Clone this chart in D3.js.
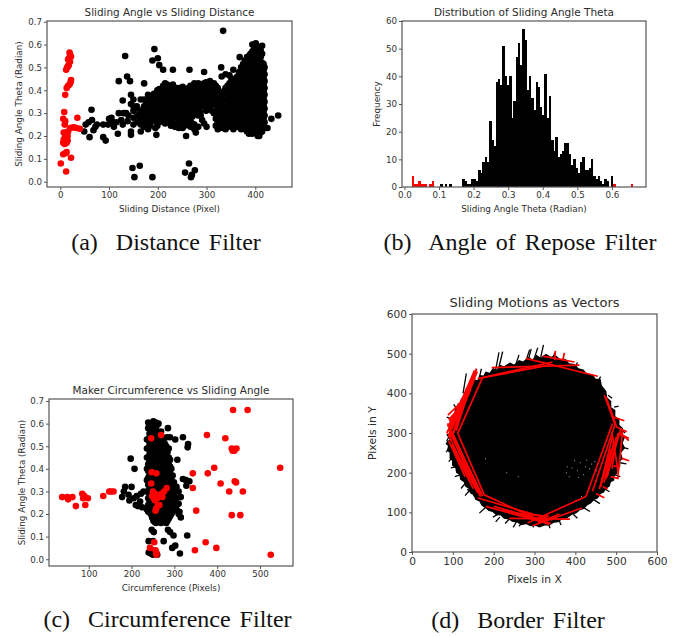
<!DOCTYPE html>
<html lang="en">
<head>
<meta charset="utf-8">
<title>Sliding filters</title>
<script src="https://d3js.org/d3.v7.min.js"></script>
<style>
  body { margin: 0; background: #fff; }
  svg { display: block; }
  text { font-family: "DejaVu Sans", sans-serif; fill: #2b2b2b; }
  .caption { font-family: "Liberation Serif", serif; fill: #111; white-space: pre; word-spacing: 3px; }
</style>
</head>
<body>
<script>
// (a) distance vs angle. single points first, then the dense band as columns [x, ys]
var distanceLoose = [[334,.66],[133,.55],[193,.58],[189,.53],[200,.54],[203,.51],[211,.49],[231,.49],[265,.49],[295,.48],[330,.5],[355,.49],[368,.545],
  [120,.44],[137,.46],[143,.44],[172,.43],[128,.355],[145,.38],[150,.36],[145,.34],[157,.33],
  [148,.06],[163,.07],[152,.02],[189,.02],[256,.04],[264,.08],[276,.05],[270,.03],[268,.02],
  [433,.275],[447,.29],[425,.235],[49,.22],[52,.25],[60,.195],[64,.315],[65,.27],[58,.26],[68,.225],[75,.25],[72,.24],
  [88,.195],[93,.18],[88,.25],[98,.25],[100,.275],[105,.28],[110,.24],[118,.21],[120,.3],[125,.27],[130,.3],[135,.3],[140,.29],
  [145,.205],[145,.22],[115,.26],[108,.26],[128,.25],[138,.265],[197,.205],[258,.2],[278,.215],[300,.24],[288,.29],[405,.2]];
var distanceBand = [
  [150,[.25,.28,.31,.33]],[158,[.26,.29,.32]],[165,[.22,.25,.28,.31,.36]],[172,[.24,.27,.3,.33,.36]],
  [180,[.23,.26,.29,.32,.35,.38]],[188,[.28,.31,.34,.37]],[195,[.235,.27,.3,.33,.36]],[203,[.26,.29,.32,.35,.38,.405]],
  [211,[.27,.3,.33,.36,.39,.42]],[219,[.28,.31,.34,.37,.4,.425]],[227,[.245,.27,.3,.33,.36,.39,.42]],[235,[.24,.28,.31,.34,.37,.4]],
  [243,[.235,.26,.29,.32,.35,.38,.41]],[251,[.235,.27,.3,.33,.36,.39,.415]],[259,[.25,.28,.31,.34,.37,.4]],[267,[.24,.27,.3,.33,.36,.39,.42]],
  [275,[.23,.25,.31,.34,.37,.4,.43]],[283,[.24,.29,.32,.35,.38,.41,.43]],[291,[.27,.33,.36,.39,.42]],[299,[.31,.34,.37,.4,.435]],
  [307,[.33,.36,.39,.42,.44]],[315,[.3,.34,.37,.4,.43]],[323,[.23,.26,.29,.32,.35,.38,.41]],[331,[.235,.27,.3,.33,.36,.39,.46]],
  [339,[.23,.26,.29,.33,.38,.41,.47]],[347,[.25,.28,.31,.34,.37,.4,.43,.465]],[355,[.23,.27,.3,.33,.36,.39,.42,.45]],
  [363,[.24,.28,.31,.34,.37,.4,.43,.46]],[371,[.23,.26,.29,.32,.35,.38,.41,.44,.47,.5]],
  [379,[.23,.26,.29,.32,.35,.38,.41,.44,.47,.5,.53]],[387,[.21,.24,.27,.3,.33,.36,.39,.42,.45,.48,.51,.54,.55]],
  [394,[.21,.24,.27,.3,.33,.36,.39,.42,.45,.48,.51,.54,.57,.6]],[401,[.22,.25,.28,.31,.34,.37,.4,.43,.46,.49,.52,.55,.58,.605]],
  [408,[.2,.23,.26,.29,.32,.35,.38,.41,.44,.47,.5,.53,.56,.59]],[414,[.22,.25,.28,.31,.34,.37,.4,.43,.46,.49,.52,.56,.595]],
  [419,[.26,.29,.32,.35,.38,.41,.44,.47,.5]]];
var distanceFill = [
  [162,[.265,.295]],[176,[.255,.285,.315,.345]],[184,[.245,.275,.305,.335,.365]],[192,[.265,.295,.325,.355,.385]],[199,[.245,.28,.31,.345,.375,.4]],
  [207,[.275,.305,.335,.365,.395]],[215,[.255,.285,.315,.345,.375,.405,.43]],[223,[.265,.295,.325,.355,.385,.415]],[231,[.255,.285,.315,.345,.375,.405,.425]],
  [239,[.255,.295,.325,.355,.385,.41]],[247,[.245,.275,.305,.335,.365,.395]],[255,[.245,.285,.315,.345,.375,.405]],[263,[.265,.295,.325,.355,.385,.41]],
  [271,[.255,.285,.315,.345,.375,.405]],[279,[.295,.325,.355,.385,.415]],[287,[.305,.335,.365,.395,.425]],[295,[.255,.345,.375,.405,.43]],
  [303,[.32,.35,.38,.41]],[311,[.31,.35,.38,.41]],[319,[.245,.275,.305,.335,.365,.395,.42]],[327,[.25,.285,.315,.345,.375]],[335,[.245,.275,.315,.355,.395]],
  [343,[.24,.27,.3,.325,.355,.39,.42]],[351,[.24,.265,.295,.325,.355,.385,.415,.445]],[359,[.255,.285,.315,.345,.375,.405,.435]],[367,[.25,.27,.3,.33,.36,.39,.42,.45,.48]],
  [375,[.245,.275,.305,.335,.365,.395,.425,.455,.485,.515]],[383,[.22,.245,.275,.305,.335,.365,.395,.425,.455,.485,.515,.545]],
  [390,[.225,.255,.285,.315,.345,.375,.405,.435,.465,.495,.525,.56]],[398,[.225,.255,.285,.315,.345,.375,.405,.435,.465,.495,.525,.555,.585]],
  [405,[.215,.245,.275,.305,.335,.365,.395,.425,.455,.485,.515,.545,.575]],[411,[.215,.245,.275,.305,.335,.365,.395,.425,.455,.485,.515,.545,.575]],
  [417,[.235,.275,.305,.335,.365,.395,.425,.455,.485,.515]]];
var distanceRejected = [[19,.565],[20,.555],[22,.548],[18,.54],[16,.535],[20,.525],[17,.51],[14,.5],[12,.49],[16,.505],
  [22,.445],[21,.435],[19,.425],[16,.42],[13,.41],[10,.38],[8,.305],[6,.275],[10,.265],[9,.25],[7,.215],[12,.215],
  [35,.28],[40,.232],[33,.235],[25,.237],[28,.238],[20,.235],[16,.22],[15,.2],[10,.2],[7,.185],[6,.17],[9,.165],[13,.17],[15,.18],[10,.18],
  [6,.12],[11,.125],[13,.13],[22,.105],[12,.045],[1,.08]];

// (b) counts per bin, 100 bins between the smallest and largest angle
var angleMin = 0.0208, angleMax = 0.6608;
var reposeLow = 0.085, reposeHigh = 0.605;
var angleCounts = [4,1,1,2,1,1,1,0,1,2, 0,0,0,1,0,1,0,1,0,0, 0,0,0,3,2,1,1,3,3,2, 6,5,9,11,9,24,17,15,38,39,
  37,51,40,37,40,25,31,47,52,44, 57,53,35,40,32,28,38,36,29,26, 41,25,33,17,13,18,11,12,13,16,
  16,12,8,10,7,5,9,11,6,6, 7,10,4,3,4,2,1,3,2,0, 4,1,0,0,0,0,0,0,0,1];

// (c) circumference vs angle
var circLoose = [[247,.13],[252,.12],[285,.13],[290,.12],[298,.105],[330,.105],[240,.08],[250,.08],[275,.08],[295,.05],[302,.06],
  [240,.03],[245,.025],[250,.02],[260,.02],[313,.025],[255,.03],[248,.04],[198,.445],[207,.40],[285,.58],[290,.54],[283,.54],[302,.53],
  [320,.54],[332,.51],[331,.495],[307,.44],[320,.355],[327,.35],[335,.345],[328,.325],[178,.275],[182,.3],[185,.32],[200,.32],[195,.26],
  [193,.285],[205,.27],[212,.28],[210,.24],[215,.235],[225,.23],[220,.255],[315,.275],[310,.245],[305,.22],[310,.2],[315,.185],[312,.21],[310,.3],[222,.29],[228,.3]];
var circColumn = [
  [239,[.21,.24,.27,.3,.33,.36,.39,.42,.45,.49,.53,.58,.605]],[245,[.2,.23,.26,.29,.32,.35,.38,.41,.44,.47,.5,.53,.56,.59]],
  [251,[.17,.2,.23,.26,.29,.32,.35,.38,.41,.44,.47,.5,.53,.56,.59,.61]],[257,[.16,.19,.22,.25,.28,.31,.34,.37,.4,.43,.46,.49,.52,.55,.58,.605]],
  [263,[.17,.2,.23,.26,.29,.32,.35,.38,.41,.44,.47,.5,.53,.56,.6]],[269,[.16,.19,.22,.25,.28,.31,.34,.37,.4,.43,.46,.49,.52,.565]],
  [275,[.17,.2,.23,.26,.29,.32,.35,.38,.41,.44,.47,.5,.53]],[281,[.16,.19,.22,.25,.28,.31,.34,.37,.4,.43,.46,.5]],
  [287,[.18,.21,.24,.27,.3,.33,.36,.39,.42,.45,.49]],[293,[.2,.23,.26,.29,.32,.36,.4]],[299,[.22,.25,.28,.31,.34]],[305,[.27,.3,.32]]];
var circFill = [
  [236,[.22,.3,.35,.4,.45,.49,.53]],[242,[.225,.255,.285,.315,.345,.375,.405,.435,.465,.51,.555,.595]],[248,[.185,.215,.245,.275,.305,.335,.365,.395,.425,.455,.485,.515,.545,.575]],
  [254,[.165,.195,.225,.255,.285,.315,.345,.375,.405,.435,.465,.495,.525,.555,.585]],[260,[.175,.205,.235,.265,.295,.325,.355,.385,.415,.445,.475,.505,.535,.565,.595]],
  [266,[.165,.195,.225,.255,.285,.315,.345,.375,.405,.435,.465,.495,.525,.555]],[272,[.175,.205,.235,.265,.295,.325,.355,.385,.415,.445,.475,.505,.54]],
  [278,[.175,.205,.235,.265,.295,.325,.355,.385,.415,.445,.475,.51]],[284,[.17,.2,.235,.265,.295,.325,.355,.385,.415,.445,.475]],
  [290,[.19,.22,.25,.28,.31,.345,.38,.41,.44]],[296,[.21,.24,.27,.3,.33,.37]],[302,[.24,.27,.3]]];
var circRejected = [[437,.66],[471,.66],[376,.55],[419,.535],[269,.55],[246,.535],[434,.49],[445,.49],[436,.48],[440,.48],[547,.405],[393,.405],
  [343,.38],[378,.38],[247,.385],[258,.38],[408,.335],[441,.345],[444,.34],[246,.335],[343,.315],[428,.3],[460,.3],[282,.315],[276,.3],[270,.29],
  [250,.3],[255,.29],[248,.28],[252,.27],[260,.27],[265,.28],[255,.26],[272,.275],[262,.24],[265,.24],[258,.225],[256,.215],[351,.215],[434,.195],[454,.195],
  [373,.075],[398,.05],[348,.04],[243,.05],[253,.075],[256,.04],[258,.03],[258,.02],[525,.02],
  [38,.275],[50,.275],[52,.265],[62,.275],[70,.235],[85,.29],[87,.27],[90,.28],[92,.24],[98,.27],[134,.28],[148,.3],[152,.3],[158,.3]];

// (d) vectors in image pixels. body is the jagged outline of the solid black part
var vectorBody = [[86,280],[92,283],[84,296],[91,300],[88,312],[94,316],[92,330],[98,332],[97,345],[103,347],[105,360],[110,362],[112,375],[118,374],[120,388],[127,390],
  [130,405],[137,403],[140,420],[147,418],[152,436],[160,433],[165,446],[175,445],[180,455],[190,452],[198,464],[208,460],[215,472],[225,468],[240,478],[250,473],
  [262,484],[272,480],[285,492],[295,486],[305,497],[315,490],[328,500],[340,492],[352,496],[362,487],[375,487],[385,476],[398,474],[408,463],[420,460],[428,450],
  [442,448],[450,437],[462,436],[465,420],[476,405],[478,390],[488,380],[488,365],[498,358],[498,342],[508,335],[508,320],[517,312],[514,298],[522,290],[516,275],
  [522,262],[512,250],[516,235],[510,228],[510,215],[503,210],[503,198],[496,192],[495,180],[487,176],[484,165],[476,160],[470,150],[462,146],[455,135],[447,132],
  [438,122],[430,118],[420,108],[412,106],[402,97],[392,94],[380,85],[370,84],[358,75],[348,74],[335,66],[325,67],[312,62],[302,66],[290,65],[280,70],[268,68],[258,74],
  [245,76],[237,82],[225,84],[217,92],[205,93],[198,100],[187,104],[180,113],[170,117],[165,127],[155,132],[151,143],[142,148],[138,160],[130,165],[127,176],[118,182],
  [116,194],[108,200],[106,212],[98,218],[98,230],[92,236],[92,250],[86,255],[88,268],[82,272]];
var keptVectors = [[205,460,213,503],[212,462,222,505],[255,475,262,497],[280,485,288,510],[285,485,292,512],[300,490,308,515],[315,490,322,522],
  [125,400,133,450],[145,430,152,450],[165,440,170,462],[345,490,350,503],[400,465,405,478],[455,430,462,442],[480,395,490,388],
  [495,365,506,368],[510,310,522,300],[512,265,530,260],[510,225,525,222],[495,195,510,190],[470,160,484,152],
  [445,132,460,122],[420,112,436,102],[395,95,405,85],[360,80,365,68],[335,70,338,60],[300,70,296,62],[270,75,262,65],[240,85,228,72],
  [210,95,198,88],[190,105,172,118],[165,130,150,143],[150,150,135,158],[132,175,120,160],[120,195,105,190],[110,215,95,212],[100,240,90,228],
  [92,265,84,252],[90,290,85,280],[98,335,85,340],[110,360,102,372],[215,88,205,76],[255,75,248,62],[180,112,165,98],[145,160,130,142]];
var rejectedVectors = [[195,465,410,471],[279,488,455,443],[320,494,398,479],[173,440,344,479],[161,437,336,471],
  [173,440,112,299],[158,462,100,299],[153,458,91,308],[144,408,87,316],[132,383,90,333],
  [158,462,104,310],[155,455,96,320],[150,440,100,340],[140,400,92,330],[128,385,88,345],[120,375,95,320],[110,350,85,300],[100,330,90,290],[92,320,95,280],
  [105,310,160,455],[110,320,150,445],[98,310,145,430],[95,305,135,415],[102,300,128,395],[108,305,140,410],[92,315,122,385],
  [87,324,173,140],[100,299,165,148],[91,308,157,157],[112,299,177,144],[95,300,150,170],[88,300,140,180],[90,280,130,190],
  [100,290,170,145],[105,285,160,150],[97,270,150,160],[103,260,168,140],
  [161,136,344,81],[177,144,336,69],[181,115,328,73],[238,85,387,83],[271,96,336,90],[283,73,426,140],[295,66,416,111],[308,73,361,96],[200,115,330,78],[220,108,340,72],
  [426,140,491,324],[442,153,498,324],[459,158,491,291],[475,184,512,312],[504,186,516,308],[478,190,505,300],[470,175,495,280],[462,165,488,260],[490,300,505,200],[500,290,490,210],
  [471,396,496,324],[475,391,501,316],
  [491,341,520,331],[500,316,526,303],[504,299,531,287],[508,303,531,281],[514,236,532,230],[494,217,508,214],[487,190,506,185],
  [467,165,479,159],[451,147,471,137],[350,484,351,507],[369,482,373,502]];
var vectorSpecks = [[380,215],[385,190],[398,230],[405,205],[412,225],[420,195],[428,232],[435,210],[442,188],[448,228],[415,140],[180,235],[232,200],[260,190],
  [378,200],[392,212],[408,188],[425,215],[440,222],[452,205]];

var svg = d3.select("body").append("svg").attr("width", 692).attr("height", 637);

function expand(cols) {
  return cols.flatMap(function(c) { return c[1].map(function(v) { return [c[0], v]; }); });
}

function frame(o) {
  var x = d3.scaleLinear().domain(o.xDomain).range([o.left, o.right]);
  var y = d3.scaleLinear().domain(o.yDomain).range([o.bottom, o.top]);
  var g = svg.append("g");
  var plot = g.append("g");
  g.append("g").attr("transform", "translate(0," + o.bottom + ")")
    .call(d3.axisBottom(x).tickValues(o.xTicks).tickFormat(o.xFormat).tickSize(3).tickPadding(2))
    .call(styleAxis, o.tickFont);
  g.append("g").attr("transform", "translate(" + o.left + ",0)")
    .call(d3.axisLeft(y).tickValues(o.yTicks).tickFormat(o.yFormat).tickSize(3).tickPadding(2))
    .call(styleAxis, o.tickFont);
  g.append("rect").attr("x", o.left).attr("y", o.top)
    .attr("width", o.right - o.left).attr("height", o.bottom - o.top)
    .attr("fill", "none").attr("stroke", "#555").attr("stroke-width", 1.2);
  g.append("text").attr("x", (o.left + o.right) / 2).attr("y", o.titleY)
    .attr("text-anchor", "middle").attr("font-size", o.titleFont).text(o.title);
  g.append("text").attr("x", (o.left + o.right) / 2).attr("y", o.xLabelY)
    .attr("text-anchor", "middle").attr("font-size", o.labelFont).text(o.xLabel);
  g.append("text").attr("transform", "translate(" + o.yLabelX + "," + (o.top + o.bottom) / 2 + ") rotate(-90)")
    .attr("text-anchor", "middle").attr("font-size", o.labelFont).text(o.yLabel);
  g.append("text").attr("class", "caption").attr("x", o.capX).attr("y", o.capY)
    .attr("text-anchor", "middle").attr("font-size", 24).text(o.caption);
  return { x: x, y: y, plot: plot };
}

function styleAxis(sel, size) {
  sel.select(".domain").remove();
  sel.selectAll("line").attr("stroke", "#555");
  sel.selectAll("text").attr("font-size", size).attr("font-family", "DejaVu Sans").style("fill", "#333");
}

function dots(p, data, color) {
  p.plot.append("g").selectAll("circle").data(data).enter().append("circle")
    .attr("cx", function(d) { return p.x(d[0]); })
    .attr("cy", function(d) { return p.y(d[1]); })
    .attr("r", 3.3)
    .attr("fill", color);
}

function segments(p, data, color, width) {
  p.plot.append("g").selectAll("line").data(data).enter().append("line")
    .attr("x1", function(d) { return p.x(d[0]); })
    .attr("y1", function(d) { return p.y(d[1]); })
    .attr("x2", function(d) { return p.x(d[2]); })
    .attr("y2", function(d) { return p.y(d[3]); })
    .attr("stroke", color).attr("stroke-width", width);
}

var f1 = d3.format(".1f");

// panel a
var pa = frame({ left: 47, right: 292, top: 21, bottom: 187,
  xDomain: [-27.3, 475.3], yDomain: [-.023, .703],
  xTicks: [0,100,200,300,400], yTicks: [0,.1,.2,.3,.4,.5,.6,.7], xFormat: d3.format("d"), yFormat: f1,
  title: "Sliding Angle vs Sliding Distance", xLabel: "Sliding Distance (Pixel)", yLabel: "Sliding Angle Theta (Radian)",
  titleY: 16, xLabelY: 212, yLabelX: 22, tickFont: 8.7, labelFont: 8.8, titleFont: 10.4,
  caption: "(a)  Distance Filter", capX: 166, capY: 250 });
dots(pa, distanceLoose.concat(expand(distanceBand), expand(distanceFill)), "#000");
dots(pa, distanceRejected, "#f00");

// panel b
var pb = frame({ left: 402, right: 646, top: 21, bottom: 187,
  xDomain: [-.0069, .6985], yDomain: [0, 60],
  xTicks: [0,.1,.2,.3,.4,.5,.6], yTicks: [0,10,20,30,40,50,60], xFormat: f1, yFormat: d3.format("d"),
  title: "Distribution of Sliding Angle Theta", xLabel: "Sliding Angle Theta (Radian)", yLabel: "Frequency",
  titleY: 16, xLabelY: 212, yLabelX: 380, tickFont: 8.7, labelFont: 8.8, titleFont: 10.5,
  caption: "(b)  Angle of Repose Filter", capX: 520, capY: 250 });
var binWidth = (angleMax - angleMin) / angleCounts.length;
pb.plot.append("g").attr("shape-rendering", "crispEdges").selectAll("rect").data(angleCounts).enter().append("rect")
  .attr("x", function(d, i) { return pb.x(angleMin + i * binWidth); })
  .attr("width", pb.x(binWidth) - pb.x(0) + .3)
  .attr("y", function(d) { return pb.y(d); })
  .attr("height", function(d) { return pb.y(0) - pb.y(d); })
  .attr("fill", function(d, i) {
    var v = angleMin + (i + .5) * binWidth;
    return v < reposeLow || v > reposeHigh ? "#f00" : "#000";
  });

// panel c
var pc = frame({ left: 49, right: 293, top: 399, bottom: 566,
  xDomain: [7.3, 577], yDomain: [-.03, .709],
  xTicks: [100,200,300,400,500], yTicks: [0,.1,.2,.3,.4,.5,.6,.7], xFormat: d3.format("d"), yFormat: f1,
  title: "Maker Circumference vs Sliding Angle", xLabel: "Circumference (Pixels)", yLabel: "Sliding Angle Theta (Radian)",
  titleY: 394, xLabelY: 591, yLabelX: 25, tickFont: 8.7, labelFont: 8.8, titleFont: 10.4,
  caption: "(c)  Circumference Filter", capX: 167.5, capY: 627 });
dots(pc, circLoose.concat(expand(circColumn), expand(circFill)), "#000");
dots(pc, circRejected, "#f00");

// panel d
var pd = frame({ left: 412, right: 657, top: 314, bottom: 552,
  xDomain: [0, 600], yDomain: [0, 600],
  xTicks: [0,100,200,300,400,500,600], yTicks: [0,100,200,300,400,500,600], xFormat: d3.format("d"), yFormat: d3.format("d"),
  title: "Sliding Motions as Vectors", xLabel: "Pixels in X", yLabel: "Pixels in Y",
  titleY: 307, xLabelY: 583, yLabelX: 376, tickFont: 10.6, labelFont: 10.8, titleFont: 13,
  caption: "(d)  Border Filter", capX: 518, capY: 628 });
pd.plot.append("path").datum(vectorBody)
  .attr("d", d3.line().x(function(d) { return pd.x(d[0]); }).y(function(d) { return pd.y(d[1]); }).curve(d3.curveLinearClosed))
  .attr("fill", "#000");
segments(pd, keptVectors, "#000", 1.3);
pd.plot.append("g").selectAll("circle").data(vectorSpecks).enter().append("circle")
  .attr("cx", function(d) { return pd.x(d[0]); })
  .attr("cy", function(d) { return pd.y(d[1]); })
  .attr("r", .5).attr("fill", "#ddd");
segments(pd, rejectedVectors, "#f00", 1.7);
</script>
</body>
</html>
